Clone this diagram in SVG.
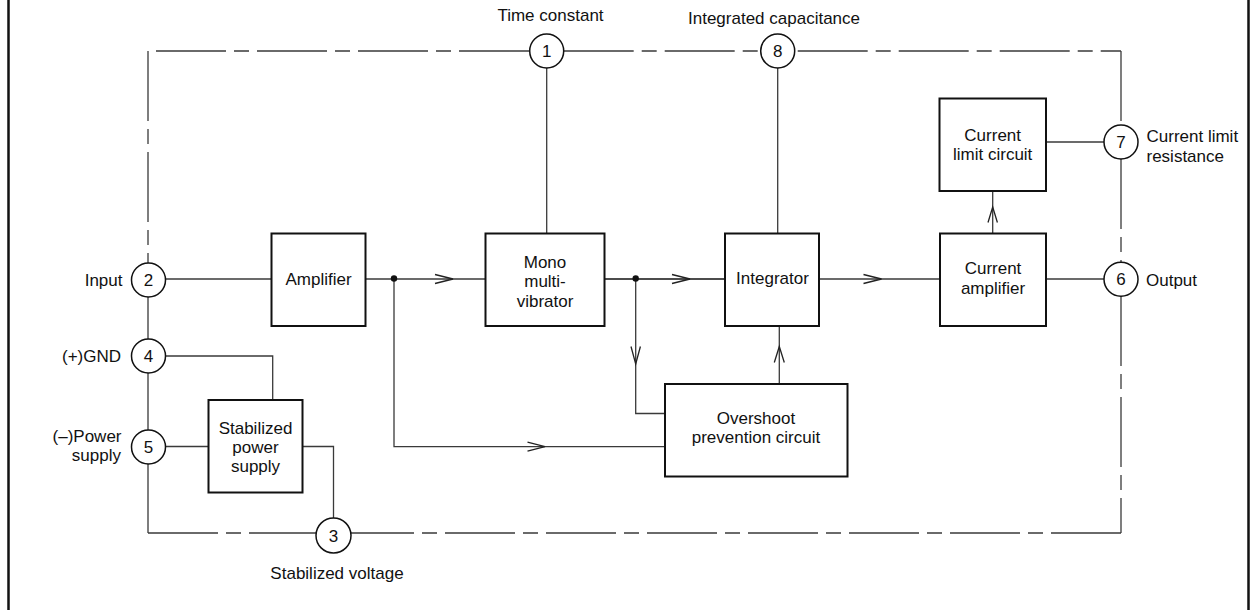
<svg xmlns="http://www.w3.org/2000/svg" width="1253" height="610" viewBox="0 0 1253 610">
<style>
text{font-family:"Liberation Sans",Arial,Helvetica,sans-serif;font-size:17px;fill:#111}
.box{fill:#fff;stroke:#111;stroke-width:2}
.pin{fill:#fff;stroke:#111;stroke-width:1.5}
.w{fill:none;stroke:#3a3a3a;stroke-width:1.3}
.wb{fill:none;stroke:#111;stroke-width:1.6}
.d{fill:none;stroke:#3a3a3a;stroke-width:1.3;stroke-dasharray:70 8 15 8}
.arr{fill:none;stroke:#222;stroke-width:1.3}
.frame{stroke:#111;stroke-width:2.5}
.m{text-anchor:middle}
.e{text-anchor:end}
</style>
<g id="frame">
<line class="frame" x1="8.5" y1="0" x2="8.5" y2="610"/>
<line class="frame" x1="1248.5" y1="0" x2="1248.5" y2="610"/>
</g>
<g id="connectors">
<!-- package outline (chain line) -->
<path class="d" d="M148,51 V263"/>
<path class="d" d="M148,51 H530" stroke-dashoffset="93"/>
<path class="d" d="M563.7,51 H760.7"/>
<path class="d" d="M794.7,51 H1121" stroke-dashoffset="98"/>
<path class="d" d="M1121,51 V125"/>
<path class="d" d="M1121,159 V262"/>
<path class="d" d="M1121,296 V533"/>
<path class="d" d="M1121,533 H351"/>
<path class="d" d="M148,533 H316"/>
<path class="w" d="M148,297 V339 M148,373 V430 M148,464 V533"/>
<!-- signals -->
<path class="w" d="M165,279 H271.5"/>
<path class="w" d="M365.5,279 H485.5"/>
<path class="wb" d="M604.5,279 H725"/>
<path class="w" d="M819,279 H940"/>
<path class="w" d="M1046,279 H1104"/>
<path class="w" d="M1046,142 H1104"/>
<path class="w" d="M546.7,68 V233.5"/>
<path class="w" d="M777.7,68 V233.5"/>
<path class="w" d="M992.7,191 V233.5"/>
<path class="w" d="M635.7,279 V413.5 H665"/>
<path class="w" d="M394,279 V446.7 H665"/>
<path class="w" d="M779.3,326 V384"/>
<path class="w" d="M165,356 H272.7 V400"/>
<path class="w" d="M165,446.5 H208.5"/>
<path class="w" d="M302.5,446.5 H333.5 V518"/>
<circle cx="394" cy="278.5" r="3.2" fill="#111"/>
<circle cx="635.7" cy="278.5" r="3.2" fill="#111"/>
<!-- arrowheads -->
<polyline class="arr" points="435,274.5 453,279 435,283.5"/>
<polyline class="arr" points="672,274.5 690,279 672,283.5"/>
<polyline class="arr" points="863.5,274.5 881.5,279 863.5,283.5"/>
<polyline class="arr" points="631,346.5 635.7,364 640.4,346.5"/>
<polyline class="arr" points="774.3,362.5 779.3,346.5 784.3,362.5"/>
<polyline class="arr" points="527.5,442.2 545,446.7 527.5,451.2"/>
<polyline class="arr" points="988,222.5 992.7,207 997.4,222.5"/>
</g>
<g id="pin1"><circle class="pin" cx="546.7" cy="51" r="17"/><text class="m" x="546.7" y="57">1</text><text class="m" x="550.5" y="21">Time constant</text></g>
<g id="pin8"><circle class="pin" cx="777.7" cy="51" r="17"/><text class="m" x="777.7" y="57">8</text><text class="m" x="774" y="24">Integrated capacitance</text></g>
<g id="pin7"><circle class="pin" cx="1121" cy="142" r="17"/><text class="m" x="1121" y="148">7</text><text x="1146.5" y="141.5">Current limit</text><text x="1146.5" y="161.5">resistance</text></g>
<g id="pin6"><circle class="pin" cx="1121" cy="279.3" r="17"/><text class="m" x="1121" y="285.3">6</text><text x="1146" y="286">Output</text></g>
<g id="pin2"><circle class="pin" cx="148.5" cy="280" r="17"/><text class="m" x="148.5" y="286">2</text><text class="e" x="122.5" y="286">Input</text></g>
<g id="pin4"><circle class="pin" cx="148.5" cy="356" r="17"/><text class="m" x="148.5" y="362">4</text><text class="e" x="121" y="362">(+)GND</text></g>
<g id="pin5"><circle class="pin" cx="148.5" cy="447" r="17"/><text class="m" x="148.5" y="453">5</text><text class="e" x="121.5" y="442">(–)Power</text><text class="e" x="121" y="461">supply</text></g>
<g id="pin3"><circle class="pin" cx="333.5" cy="535.5" r="17.5"/><text class="m" x="333.5" y="541.5">3</text><text class="m" x="337" y="579">Stabilized voltage</text></g>
<g id="amplifier"><rect class="box" x="271.5" y="233.5" width="94" height="92.5"/><text class="m" x="318.5" y="285">Amplifier</text></g>
<g id="mono"><rect class="box" x="485.5" y="233.5" width="119" height="92.5"/><text class="m" x="545" y="267.5">Mono</text><text class="m" x="545" y="287">multi-</text><text class="m" x="545" y="306.5">vibrator</text></g>
<g id="integrator"><rect class="box" x="725" y="233.5" width="94" height="92.5"/><text class="m" x="772.5" y="284">Integrator</text></g>
<g id="current-amplifier"><rect class="box" x="940" y="233.5" width="106" height="92.5"/><text class="m" x="993" y="274">Current</text><text class="m" x="993" y="293.5">amplifier</text></g>
<g id="current-limit"><rect class="box" x="939.5" y="98.5" width="106.5" height="92.5"/><text class="m" x="992.7" y="140.5">Current</text><text class="m" x="992.7" y="160">limit circuit</text></g>
<g id="overshoot"><rect class="box" x="665" y="384" width="182.5" height="92.5"/><text class="m" x="756" y="423.5">Overshoot</text><text class="m" x="756" y="443">prevention circuit</text></g>
<g id="stabilized-power"><rect class="box" x="208.5" y="400" width="94" height="92.5"/><text class="m" x="255.5" y="434">Stabilized</text><text class="m" x="255.5" y="453">power</text><text class="m" x="255.5" y="472">supply</text></g>
</svg>
